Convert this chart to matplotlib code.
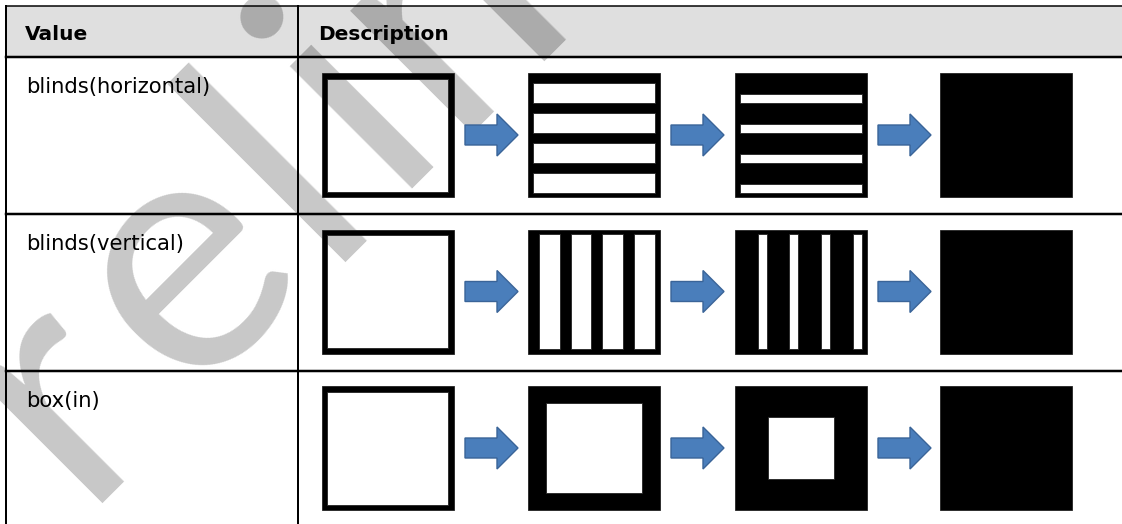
import numpy as np
import matplotlib
matplotlib.use("Agg")
import matplotlib.pyplot as plt
from matplotlib.patches import Rectangle, PathPatch, FancyArrow
from matplotlib.path import Path
from matplotlib.textpath import TextPath, text_to_path
from matplotlib.font_manager import FontProperties

# table content
headers = ["Value", "Description"]
effects = ["blinds(horizontal)", "blinds(vertical)", "box(in)"]
# share of black in each of the 4 frames (0 = empty outline, 1 = all black)
blind_fill = [0.0, 0.34, 0.71, 1.0]
box_border = [0.0, 0.135, 0.25, 1.0]
watermark = "Preliminary"

W, H = 1122, 524
PX = 0.72  # points per pixel at dpi 100

fig = plt.figure(figsize=(W / 100, H / 100), dpi=100)
ax = fig.add_axes([0, 0, 1, 1])
ax.set_xlim(0, W)
ax.set_ylim(H, 0)
ax.axis("off")

# table grid
left, col2, top, head_bot = 6.5, 298.5, 5.5, 57
row_lines = [head_bot, 214, 371]
row_tops = [57, 214, 371]

ax.add_patch(Rectangle((left, top), W - left, head_bot - top, facecolor="#dfdfdf",
                       edgecolor="none", zorder=2))
header_clip = ax.add_patch(Rectangle((left, top), W - left, head_bot - top,
                                     facecolor="none", edgecolor="none", zorder=0))

# watermark, drawn letter by letter along a 45 degree baseline
wm_prop = FontProperties(family="Lato", size=246)
pxs = 100 / 72


def adv(ch):
    return text_to_path.get_text_width_height_descent(ch, wm_prop, ismath=False)[0] * pxs


def lsb(ch):
    return TextPath((0, 0), ch, prop=wm_prop).get_extents().x0 * pxs


r_stem, m_stem = -262.0, 262.0
base_sum = 582.0
nudge = {2: 12, 4: 6}  # small shifts along the baseline for "e" and "i"
advs = [adv(c) for c in watermark]
cum = np.concatenate([[0], np.cumsum(advs)])
i_r, i_m = 1, 5
track = (m_stem - r_stem) / ((cum[i_m] + lsb("m")) - (cum[i_r] + lsb("r")))
u0 = r_stem - 14 - lsb("r") - track * cum[i_r]
cx, cy = base_sum / 2, base_sum / 2
for k, ch in enumerate(watermark):
    u = u0 + track * cum[k] + nudge.get(k, 0)
    x, y = cx + u / np.sqrt(2), cy - u / np.sqrt(2)
    ax.text(x, y, ch, fontproperties=wm_prop, color="#c8c8c8", rotation=45,
            rotation_mode="anchor", ha="left", va="baseline", zorder=1)
    t = ax.text(x, y, ch, fontproperties=wm_prop, color="#ababab", rotation=45,
                rotation_mode="anchor", ha="left", va="baseline", zorder=2.5,
                clip_on=True)
    t.set_clip_path(header_clip)

ax.plot([left, W], [top, top], color="black", lw=1.5 * PX, zorder=5)
for yl in row_lines:
    ax.plot([left, W], [yl, yl], color="black", lw=2.5 * PX, zorder=5)
ax.plot([left, left], [top, H], color="black", lw=2 * PX, zorder=5)
ax.plot([col2, col2], [top, H], color="black", lw=2 * PX, zorder=5)

# header and row labels
ax.text(25, 40.5, headers[0], fontsize=14.5, fontweight="bold", va="baseline", zorder=6)
ax.text(318, 40.5, headers[1], fontsize=14.5, fontweight="bold", va="baseline", zorder=6)
for rt, name in zip(row_tops, effects):
    ax.text(26, rt + 36, name, fontsize=15.2, va="baseline", zorder=6)


def frame(x, y, w, h, holes):
    verts = [(x, y), (x + w, y), (x + w, y + h), (x, y + h), (x, y)]
    codes = [Path.MOVETO] + [Path.LINETO] * 3 + [Path.CLOSEPOLY]
    for hx, hy, hw, hh in holes:
        verts += [(hx, hy), (hx, hy + hh), (hx + hw, hy + hh), (hx + hw, hy), (hx, hy)]
        codes += [Path.MOVETO] + [Path.LINETO] * 3 + [Path.CLOSEPOLY]
    ax.add_patch(PathPatch(Path(verts, codes), facecolor="black", edgecolor="#222222",
                           lw=0.6, zorder=4))


box_x = [322, 528, 735, 940]
box_y = [73, 229.5, 386]
bw, bh = 132, 124

for r, effect in enumerate(effects):
    y = box_y[r]
    for s, x in enumerate(box_x):
        if s == 0:
            holes = [(x + 5.5, y + 5.5, bw - 11, bh - 11)]
        elif s == 3:
            holes = []
        elif r == 0:
            f = blind_fill[s]
            p = (bh - 4) / 4
            holes = [(x + 5, y + k * p + f * p, bw - 10, (1 - f) * p) for k in range(4)]
        elif r == 1:
            f = blind_fill[s]
            p = (bw - 5) / 4
            holes = [(x + k * p + f * p, y + 4.5, (1 - f) * p, bh - 9) for k in range(4)]
        else:
            t = box_border[s] * bw
            holes = [(x + t, y + t * 0.95, bw - 2 * t, bh - 2 * t * 0.95)]
        frame(x, y, bw, bh, holes)
        if s < 3:
            ax.add_patch(FancyArrow(x + bw + 11, y + bh / 2, 53, 0, width=20,
                                    head_width=42, head_length=21,
                                    length_includes_head=True, facecolor="#4a7ebb",
                                    edgecolor="#3a6498", lw=1, zorder=4))

fig.savefig("out.png", dpi=100)
